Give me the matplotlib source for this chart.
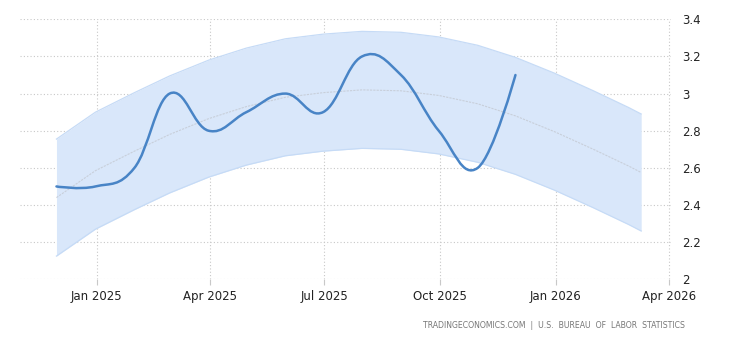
import numpy as np
import matplotlib
matplotlib.use("Agg")
import matplotlib.pyplot as plt
import matplotlib.dates as mdates
from matplotlib.path import Path
from matplotlib.patches import PathPatch
import datetime as dt

# Monthly readings (plotted at month end)
obs_dates = ["2024-11-30", "2024-12-31", "2025-01-31", "2025-02-28", "2025-03-31",
             "2025-04-30", "2025-05-31", "2025-06-30", "2025-07-31", "2025-08-31",
             "2025-09-30", "2025-10-31", "2025-11-30"]
obs_values = [2.5, 2.5, 2.6, 3.0, 2.8, 2.9, 3.0, 2.9, 3.2, 3.1, 2.8, 2.6, 3.1]

# Trend line with its range band
band_dates = ["2024-11-30", "2024-12-31", "2025-01-31", "2025-02-28", "2025-03-31",
              "2025-04-30", "2025-05-31", "2025-06-30", "2025-07-31", "2025-08-31",
              "2025-09-30", "2025-10-31", "2025-11-30", "2025-12-31", "2026-01-31",
              "2026-02-28", "2026-03-10"]
trend_values = [2.44, 2.585, 2.69, 2.78, 2.865, 2.93, 2.98, 3.005, 3.02, 3.015,
                2.99, 2.945, 2.88, 2.795, 2.70, 2.61, 2.575]
band_upper = [2.755, 2.90, 3.005, 3.095, 3.18, 3.245, 3.295, 3.32, 3.335, 3.33,
              3.305, 3.26, 3.195, 3.11, 3.015, 2.925, 2.89]
band_lower = [2.125, 2.27, 2.375, 2.465, 2.55, 2.615, 2.665, 2.69, 2.705, 2.70,
              2.675, 2.63, 2.565, 2.48, 2.385, 2.295, 2.26]

x_ticks = ["2025-01-01", "2025-04-01", "2025-07-01", "2025-10-01", "2026-01-01", "2026-04-01"]
x_tick_labels = ["Jan 2025", "Apr 2025", "Jul 2025", "Oct 2025", "Jan 2026", "Apr 2026"]
y_ticks = [2.0, 2.2, 2.4, 2.6, 2.8, 3.0, 3.2, 3.4]

source_text = "TRADINGECONOMICS.COM  |  U.S.  BUREAU  OF  LABOR  STATISTICS"


def to_num(ds):
    return np.array([mdates.date2num(dt.date.fromisoformat(d)) for d in ds])


def spline_path(xs, ys, smoothing=1.5):
    """Cubic Bezier path through the points (Highcharts-style spline)."""
    n = len(xs)
    lcx = np.array(xs, float).copy(); lcy = np.array(ys, float).copy()
    rcx = np.array(xs, float).copy(); rcy = np.array(ys, float).copy()
    den = smoothing + 1
    for i in range(1, n - 1):
        px, py = xs[i], ys[i]
        lx, ly = xs[i - 1], ys[i - 1]
        nx, ny = xs[i + 1], ys[i + 1]
        a_x = (smoothing * px + lx) / den
        a_y = (smoothing * py + ly) / den
        b_x = (smoothing * px + nx) / den
        b_y = (smoothing * py + ny) / den
        corr = (b_y - a_y) * (b_x - px) / (b_x - a_x) + py - b_y
        lcx[i], lcy[i] = a_x, a_y + corr
        rcx[i], rcy[i] = b_x, b_y + corr
    verts = [(xs[0], ys[0])]
    codes = [Path.MOVETO]
    for i in range(1, n):
        verts += [(rcx[i - 1], rcy[i - 1]), (lcx[i], lcy[i]), (xs[i], ys[i])]
        codes += [Path.CURVE4] * 3
    return Path(verts, codes)


W, H = 730, 340
fig = plt.figure(figsize=(W / 100, H / 100), dpi=100)
left_px, right_px, top_px, bottom_px = 20, 671, 19.3, 279.3
ax = fig.add_axes([left_px / W, 1 - bottom_px / H,
                   (right_px - left_px) / W, (bottom_px - top_px) / H])

jan25 = mdates.date2num(dt.date(2025, 1, 1))
px_per_day = 1.2575
ax.set_xlim(jan25 - (96.7 - left_px) / px_per_day, jan25 + (right_px - 96.7) / px_per_day)
ax.set_ylim(2.0, 3.4)

bx = to_num(band_dates)
ax.fill_between(bx, band_lower, band_upper, color="#d9e7fa", lw=0, zorder=1)
ax.plot(bx, band_upper, color="#c6dbf6", lw=0.9, zorder=2)
ax.plot(bx, band_lower, color="#c6dbf6", lw=0.9, zorder=2)
ax.plot(bx, trend_values, color="#c8cfda", lw=0.8, ls=(0, (2, 1)), zorder=2)

ox = to_num(obs_dates)
ax.add_patch(PathPatch(spline_path(ox, obs_values), fill=False,
                       edgecolor="#4884c6", lw=1.8, capstyle="round",
                       joinstyle="round", zorder=4))

grid_kw = dict(color="#c8c8c8", lw=0.8, ls=(0, (1, 2)), zorder=0)
for y in y_ticks:
    ax.axhline(y, **grid_kw)
for d in to_num(x_ticks):
    ax.axvline(d, **grid_kw)

ax.set_xticks(to_num(x_ticks))
ax.set_xticklabels(x_tick_labels)
ax.set_yticks(y_ticks)
ax.set_yticklabels([f"{v:g}" for v in y_ticks])
ax.yaxis.tick_right()
ax.tick_params(axis="y", length=0, pad=8, labelsize=8.5, labelcolor="#222222")
ax.tick_params(axis="x", length=4, color="#c8c8c8", pad=4, labelsize=8.5,
               labelcolor="#222222")
for lbl in ax.get_yticklabels():
    lbl.set_horizontalalignment("left")
for s in ax.spines.values():
    s.set_visible(False)

fig.text(685 / W, 1 - 325 / H, source_text, ha="right", va="center",
         fontsize=5.6, color="#777777")

fig.savefig("out.png", dpi=100)
